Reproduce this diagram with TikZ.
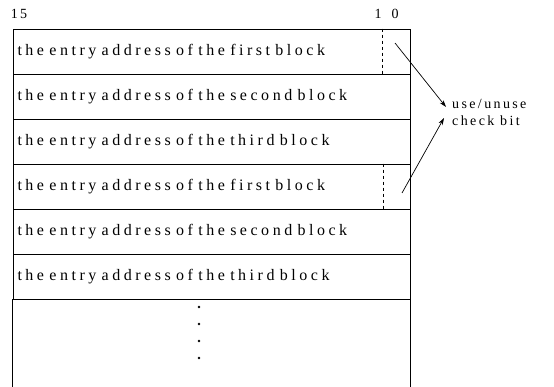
\documentclass[tikz,border=0pt]{standalone}
\usepackage{fontspec}
\setmainfont{Liberation Serif}
\newfontfamily\scanfont[LetterSpace=22,WordSpace=2]{Liberation Serif}
\newfontfamily\labelfont[LetterSpace=17]{Liberation Serif}
\newcommand{\rowfont}{\fontsize{16}{19}\selectfont\scanfont}
\newcommand{\bitfont}{\fontsize{14}{17}\selectfont\labelfont}
\usepackage{tikz}
\usetikzlibrary{arrows.meta, positioning, calc}

\begin{document}
\begin{tikzpicture}[
  x=1pt, y=-1pt,
  every node/.style={font=\rowfont, inner sep=0pt},
  entry/.style={draw, line width=0.8pt, minimum width=397pt, minimum height=45pt,
                text width=388pt, align=left},
  bitline/.style={dashed, line width=0.7pt},
  arr/.style={-{Stealth[length=7pt, width=4.5pt]}, line width=0.7pt},
  vdot/.style={circle, fill, minimum size=2.6pt},
]
\useasboundingbox (0,0) rectangle (554,387);

%% ── BIT NUMBERS ──────────────────────────────────────────────────────
\node[font=\bitfont] (b15) at (19,14) {15};
\node[font=\bitfont] (b1)  at (378,14) {1};
\node[font=\bitfont] (b0)  at (395,14) {0};

%% ── ENTRY TABLE ──────────────────────────────────────────────────────
\node[entry] (row1) at (211.5, 51.5) {the entry address of the first block};
\node[entry] (row2) at (211.5, 96.5) {the entry address of the second block};
\node[entry] (row3) at (211.5,141.5) {the entry address of the third block};
\node[entry] (row4) at (211.5,186.5) {the entry address of the first block};
\node[entry] (row5) at (211.5,231.5) {the entry address of the second block};
\node[entry] (row6) at (211.5,276.5) {the entry address of the third block};

%% open part of the table
\draw[line width=0.8pt] (row6.south west) -- ++(0,88);
\draw[line width=0.8pt] (row6.south east) -- ++(0,88);
\foreach \k in {0,...,3}
  \node[vdot] (dot\k) at (199, 307+17*\k) {};

%% ── USE/UNUSE BITS ───────────────────────────────────────────────────
\draw[bitline] ($(row1.north east)+(-28,0)$) -- ($(row1.south east)+(-28,0)$);
\draw[bitline] ($(row4.north east)+(-27,0)$) -- ($(row4.south east)+(-27,0)$);

\coordinate (bit1) at (395,43);
\coordinate (bit2) at (402,193);

\node[align=left, anchor=west, font=\bitfont] (ubit) at (452,112) {use/unuse\\check bit};

%% ── ARROWS ───────────────────────────────────────────────────────────
\draw[arr] (bit1) -- ($(ubit.west)+(-6,-5)$);
\draw[arr] (bit2) -- ($(ubit.west)+(-8,6)$);

\end{tikzpicture}
\end{document}
